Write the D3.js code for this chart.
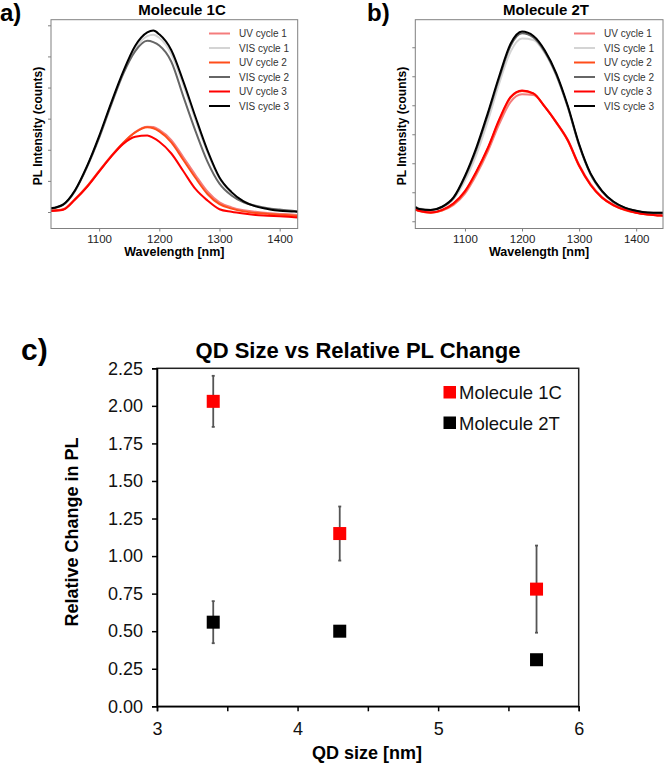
<!DOCTYPE html>
<html lang="en">
<head>
    <meta charset="UTF-8"/>
    <title>QD PL switching</title>
    <script src="https://d3js.org/d3.v7.min.js"></script>
    <style>
        body { margin: 0; background: #fff; }
        text { font-family: Arial, "Liberation Sans", sans-serif; }
        .spec .domain { display: none; }
        .spec .tick line { stroke: #808080; }
        .spec .tick text { font-size: 11.5px; fill: #222; }
        .big .domain { stroke: #000; stroke-width: 1.5px; }
        .big .tick line { stroke: #000; stroke-width: 1.5px; }
        .big .tick text { font-size: 18px; fill: #111; }
    </style>
</head>
<body>
<div id="chart"></div>
<script>
// ---- panel a) Molecule 1C spectra (intensity in tick units) ----
const wlA = [1020, 1040, 1060, 1080, 1100, 1120, 1140, 1160, 1180, 1190, 1200, 1220,
             1240, 1260, 1280, 1300, 1320, 1340, 1360, 1380, 1400, 1420, 1430];
const aUV1  = [0.05, 0.09, 0.42, 0.83, 1.32, 1.80, 2.23, 2.57, 2.74, 2.73, 2.64, 2.31, 1.76, 1.19, 0.66, 0.31, 0.15, 0.06, 0.01, -0.03, -0.06, -0.08, -0.10];
const aVIS1 = [0.13, 0.25, 0.69, 1.46, 2.41, 3.47, 4.47, 5.26, 5.65, 5.70, 5.60, 5.08, 4.08, 2.97, 1.92, 1.08, 0.63, 0.35, 0.20, 0.12, 0.06, 0.04, 0.03];
const aUV2  = [0.04, 0.08, 0.41, 0.82, 1.31, 1.79, 2.22, 2.56, 2.72, 2.69, 2.59, 2.24, 1.67, 1.10, 0.58, 0.25, 0.11, 0.02, -0.03, -0.06, -0.09, -0.11, -0.13];
const aVIS2 = [0.11, 0.23, 0.68, 1.45, 2.38, 3.44, 4.44, 5.17, 5.50, 5.46, 5.35, 4.83, 3.71, 2.61, 1.62, 0.91, 0.53, 0.31, 0.20, 0.12, 0.08, 0.04, 0.01];
const aUV3  = [0.03, 0.07, 0.40, 0.81, 1.30, 1.78, 2.19, 2.42, 2.46, 2.38, 2.26, 1.88, 1.31, 0.74, 0.37, 0.09, 0.01, -0.05, -0.10, -0.12, -0.14, -0.16, -0.18];
const aVIS3 = [0.12, 0.24, 0.70, 1.48, 2.44, 3.51, 4.51, 5.34, 5.77, 5.83, 5.71, 5.20, 4.19, 3.06, 1.98, 1.11, 0.64, 0.34, 0.18, 0.10, 0.04, 0.02, 0.01];

// ---- panel b) Molecule 2T spectra ----
const wlB = [1013, 1020, 1040, 1060, 1080, 1100, 1120, 1140, 1160, 1180, 1200, 1220,
             1240, 1260, 1280, 1300, 1320, 1340, 1360, 1380, 1400, 1420, 1440, 1447];
const bUV1  = [0.40, 0.35, 0.30, 0.37, 0.56, 0.95, 1.60, 2.40, 3.35, 4.12, 4.38, 4.35, 3.95, 3.42, 2.82, 1.95, 1.29, 0.84, 0.57, 0.41, 0.30, 0.24, 0.21, 0.20];
const bVIS1 = [0.50, 0.44, 0.40, 0.48, 0.76, 1.40, 2.30, 3.45, 4.75, 5.85, 6.30, 6.25, 5.80, 5.02, 3.94, 2.63, 1.64, 1.05, 0.68, 0.47, 0.36, 0.31, 0.30, 0.30];
const bUV2  = [0.40, 0.35, 0.29, 0.38, 0.60, 1.01, 1.69, 2.50, 3.47, 4.26, 4.49, 4.40, 3.95, 3.40, 2.78, 1.90, 1.25, 0.81, 0.55, 0.39, 0.29, 0.23, 0.20, 0.19];
const bVIS2 = [0.48, 0.41, 0.38, 0.49, 0.80, 1.52, 2.48, 3.66, 4.93, 6.05, 6.48, 6.34, 5.84, 5.05, 3.95, 2.62, 1.62, 1.03, 0.66, 0.46, 0.35, 0.29, 0.28, 0.28];
const bUV3  = [0.41, 0.36, 0.30, 0.39, 0.62, 1.04, 1.72, 2.53, 3.51, 4.29, 4.51, 4.41, 3.94, 3.41, 2.80, 1.92, 1.26, 0.82, 0.56, 0.40, 0.29, 0.23, 0.20, 0.19];
const bVIS3 = [0.49, 0.42, 0.39, 0.50, 0.82, 1.56, 2.54, 3.73, 5.00, 6.12, 6.54, 6.39, 5.89, 5.10, 3.99, 2.66, 1.65, 1.05, 0.68, 0.47, 0.36, 0.30, 0.29, 0.29];

const cycleNames  = ["UV cycle 1", "VIS cycle 1", "UV cycle 2", "VIS cycle 2", "UV cycle 3", "VIS cycle 3"];
const cycleColors = ["#f47c7c", "#d4d4d4", "#ff4d1a", "#666666", "#ff0000", "#000000"];
const wlTicks = [1100, 1200, 1300, 1400];

// ---- panel c) QD size vs relative PL change ----
const qdSize   = [3.4, 4.3, 5.7];
const rel1C    = [2.03, 1.15, 0.78];
const err1C    = [0.17, 0.18, 0.29];
const rel2T    = [0.56, 0.50, 0.31];
const err2T    = [0.14, 0.03, 0.03];
const yTicksC  = [0, 0.25, 0.5, 0.75, 1, 1.25, 1.5, 1.75, 2, 2.25];
const xTicksC  = [3, 3.5, 4, 4.5, 5, 5.5, 6];

const svg = d3.select("#chart").append("svg")
    .attr("width", 664).attr("height", 765);

// draw one spectrum panel
function spectrumPanel(opt) {
    const x = d3.scaleLinear().domain(opt.xDomain).range([opt.left, opt.right]);
    const y = d3.scaleLinear().domain(opt.yDomain).range([opt.bottom, opt.top]);
    const g = svg.append("g");

    g.append("g").attr("class", "spec")
        .attr("transform", "translate(0," + opt.bottom + ")")
        .call(d3.axisBottom(x).tickValues(wlTicks).tickSize(3).tickPadding(3).tickFormat(d3.format("d")));
    g.append("g").attr("class", "spec")
        .attr("transform", "translate(" + opt.left + ",0)")
        .call(d3.axisLeft(y).tickValues(d3.range(0, 7)).tickSize(3).tickFormat(""));

    const clipId = "clip" + opt.id;
    g.append("clipPath").attr("id", clipId).append("rect")
        .attr("x", opt.left).attr("y", opt.top)
        .attr("width", opt.right - opt.left).attr("height", opt.bottom - opt.top);

    const line = d3.line().x(d => x(d[0])).y(d => y(d[1])).curve(d3.curveMonotoneX);
    opt.series.forEach(function(vals, i) {
        g.append("path")
            .datum(opt.wl.map((w, k) => [w, vals[k]]))
            .attr("clip-path", "url(#" + clipId + ")")
            .attr("fill", "none")
            .attr("stroke", cycleColors[i])
            .attr("stroke-width", 2)
            .attr("d", line);
    });

    g.append("rect")
        .attr("x", opt.left).attr("y", opt.top)
        .attr("width", opt.right - opt.left).attr("height", opt.bottom - opt.top)
        .attr("fill", "none").attr("stroke", "#808080").attr("stroke-width", 1);

    // legend
    cycleNames.forEach(function(name, i) {
        const ly = 33.5 + i * 14.5;
        g.append("line").attr("x1", opt.legX).attr("x2", opt.legX + 21)
            .attr("y1", ly).attr("y2", ly)
            .attr("stroke", cycleColors[i]).attr("stroke-width", 2);
        g.append("text").attr("x", opt.legX + 30).attr("y", ly + 3.5)
            .style("font-size", "10px").style("fill", "#333").text(name);
    });

    g.append("text").attr("x", opt.titleX).attr("y", 15).attr("text-anchor", "middle")
        .style("font-size", "15px").style("font-weight", "bold").text(opt.title);
    g.append("text").attr("x", (opt.left + opt.right) / 2).attr("y", 256).attr("text-anchor", "middle")
        .style("font-size", "12.5px").style("font-weight", "bold").text("Wavelength [nm]");
    g.append("text").attr("transform", "translate(" + opt.yLabX + "," + ((opt.top + opt.bottom) / 2 + 2) + ") rotate(-90)")
        .attr("text-anchor", "middle")
        .style("font-size", "12px").style("font-weight", "bold").text("PL Intensity (counts)");
    g.append("text").attr("x", opt.tagX).attr("y", 21)
        .style("font-size", "24px").style("font-weight", "bold").text(opt.tag);
}

spectrumPanel({
    id: "a", tag: "a)", tagX: 0, title: "Molecule 1C", titleX: 182,
    left: 51, right: 297.7, top: 19.7, bottom: 228.5,
    xDomain: [1020, 1430], yDomain: [-0.53, 6.18],
    wl: wlA, series: [aUV1, aVIS1, aUV2, aVIS2, aUV3, aVIS3],
    legX: 209, yLabX: 42
});

spectrumPanel({
    id: "b", tag: "b)", tagX: 367, title: "Molecule 2T", titleX: 546,
    left: 415.3, right: 663, top: 19.7, bottom: 228.5,
    xDomain: [1013, 1447], yDomain: [-0.25, 6.95],
    wl: wlB, series: [bUV1, bVIS1, bUV2, bVIS2, bUV3, bVIS3],
    legX: 574, yLabX: 406
});

// ---- panel c ----
const cL = 157, cR = 578.7, cT = 368.3, cB = 706.3;
const xc = d3.scaleLinear().domain([3, 6]).range([cL, cR]);
const yc = d3.scaleLinear().domain([0, 2.25]).range([cB, cT]);
const gc = svg.append("g");

gc.append("rect").attr("x", cL).attr("y", cT).attr("width", cR - cL).attr("height", cB - cT)
    .attr("fill", "none").attr("stroke", "#222").attr("stroke-width", 1.5);

gc.append("g").attr("class", "big")
    .attr("transform", "translate(0," + cB + ")")
    .call(d3.axisBottom(xc).tickValues(xTicksC).tickSize(5).tickPadding(11)
        .tickFormat(d => Number.isInteger(d) ? d : ""));
gc.append("g").attr("class", "big")
    .attr("transform", "translate(" + cL + ",0)")
    .call(d3.axisLeft(yc).tickValues(yTicksC).tickSize(5).tickPadding(9).tickFormat(d3.format(".2f")));

const groups = [
    {vals: rel1C, err: err1C, color: "#ff0000"},
    {vals: rel2T, err: err2T, color: "#000000"}
];
groups.forEach(function(s) {
    qdSize.forEach(function(q, i) {
        const cx = xc(q);
        const y0 = yc(s.vals[i] - s.err[i]), y1 = yc(s.vals[i] + s.err[i]);
        gc.append("line").attr("x1", cx).attr("x2", cx).attr("y1", y0).attr("y2", y1)
            .attr("stroke", "#555").attr("stroke-width", 1.8);
        [y0, y1].forEach(function(yy) {
            gc.append("line").attr("x1", cx - 1.5).attr("x2", cx + 1.5).attr("y1", yy).attr("y2", yy)
                .attr("stroke", "#555").attr("stroke-width", 1.8);
        });
        gc.append("rect").attr("x", cx - 6.5).attr("y", yc(s.vals[i]) - 6.5)
            .attr("width", 13).attr("height", 13).attr("fill", s.color);
    });
});

// legend c
[["Molecule 1C", "#ff0000"], ["Molecule 2T", "#000000"]].forEach(function(d, i) {
    const ly = 399 + i * 30.5;
    gc.append("rect").attr("x", 443.5).attr("y", ly - 13).attr("width", 12.5).attr("height", 12.5).attr("fill", d[1]);
    gc.append("text").attr("x", 459).attr("y", ly).style("font-size", "18.5px").style("fill", "#111").text(d[0]);
});

gc.append("text").attr("x", 358).attr("y", 357.5).attr("text-anchor", "middle")
    .style("font-size", "22px").style("font-weight", "bold").text("QD Size vs Relative PL Change");
gc.append("text").attr("x", 367).attr("y", 759).attr("text-anchor", "middle")
    .style("font-size", "18px").style("font-weight", "bold").text("QD size [nm]");
gc.append("text").attr("transform", "translate(78,532) rotate(-90)").attr("text-anchor", "middle")
    .style("font-size", "18px").style("font-weight", "bold").text("Relative Change in PL");
gc.append("text").attr("x", 21).attr("y", 360)
    .style("font-size", "30px").style("font-weight", "bold").text("c)");
</script>
</body>
</html>
